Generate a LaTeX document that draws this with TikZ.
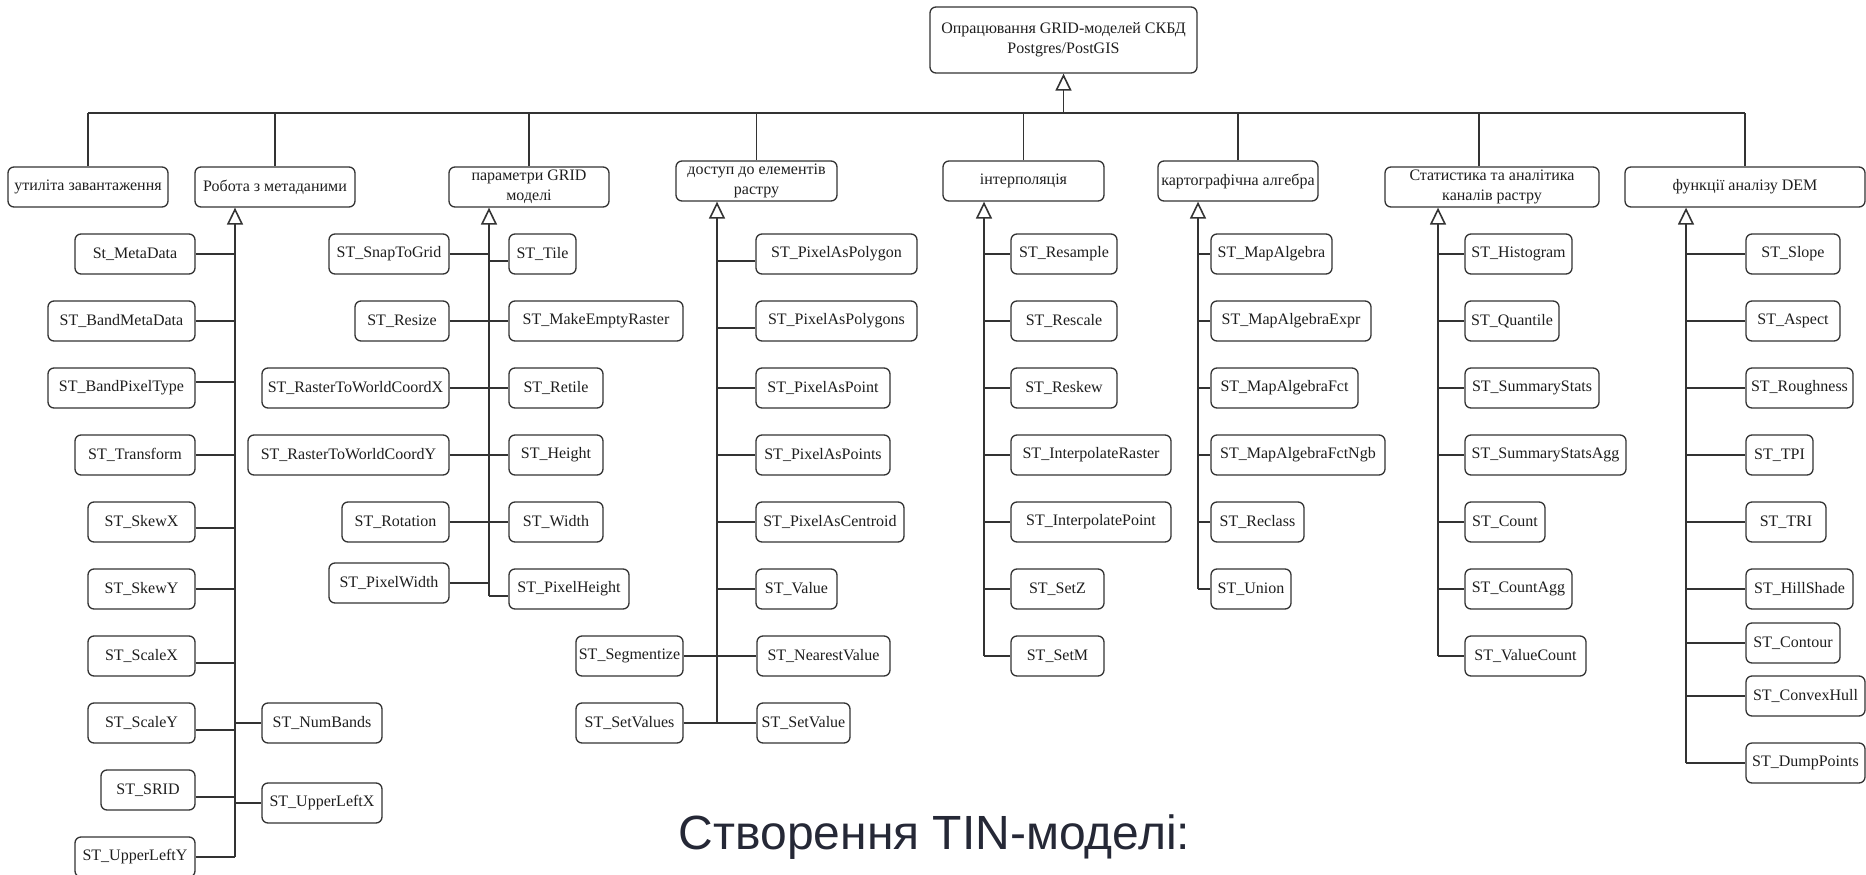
\documentclass[tikz,border=0pt]{standalone}
\usepackage{fontspec}
\setmainfont{Liberation Serif}
\newfontfamily\titlefont{Liberation Sans}
\usetikzlibrary{arrows.meta}
\definecolor{ln}{HTML}{333333}
\definecolor{tx}{HTML}{1E1E1E}
\definecolor{ttl}{HTML}{252836}

% box from x=#2 to x=#3, centred at y=#4
\newcommand\bx[5]{\node[box, minimum width={#3-#2}] (#1) at ({(#2+#3)/2},#4) {#5};}
% connector from a box on the left of spine #2 (vertical offset #3)
\newcommand\lc[3]{\draw[wire] ([yshift=#3]#1.east) -- ([yshift=#3]#1.east -| #2);}
% connector from spine #2 to a box on its right (vertical offset #3)
\newcommand\rc[3]{\draw[wire] ([yshift=#3]#1.west -| #2) -- ([yshift=#3]#1.west);}

\begin{document}
\begin{tikzpicture}[x=1pt,y=-1pt,
  box/.style={draw=ln, line width=1.3pt, rounded corners=6pt, minimum height=40pt,
    inner xsep=1pt, inner ysep=0pt, align=center, text=tx,
    font=\fontsize{16}{20}\selectfont},
  wire/.style={draw=ln, line width=1.3pt},
  gen/.style={wire, -{Triangle[open, length=17pt, width=16pt, line width=1.6pt]}},
]
\useasboundingbox (0,0) rectangle (1866,875);
\clip (0,0) rectangle (1866,875);

% root
\node[box, minimum width=267, minimum height=66] (root) at (1063.5,40)
  {Опрацювання GRID-моделей СКБД\\Postgres/PostGIS};

% categories
\bx{util}{8}{168}{187}{утиліта завантаження}
\bx{meta}{195}{355}{187}{Робота з метаданими}
\bx{grid}{449}{609}{187}{параметри GRID\\моделі}
\bx{acc}{676}{837}{181}{доступ до елементів\\растру}
\bx{intp}{943}{1104}{181}{інтерполяція}
\bx{alg}{1158}{1318}{181}{картографічна алгебра}
\bx{stat}{1385}{1599}{187}{Статистика та аналітика\\каналів растру}
\bx{dem}{1625}{1865}{187}{функції аналізу DEM}

% bus
\coordinate (bus) at (0,113);
\draw[wire] (util.north |- bus) -- (dem.north |- bus);
\foreach \n in {util,meta,grid,acc,intp,alg,dem}
  \draw[wire] (\n.north) -- (\n.north |- bus);
\draw[wire] ([xshift=-13]stat.north) -- ([xshift=-13]stat.north |- bus);
\draw[gen] (root.south |- bus) -- (root.south);

% spine positions
\coordinate (sMeta) at (235,0);
\coordinate (sGrid) at (489,0);
\coordinate (sAcc) at (717,0);
\coordinate (sIntp) at (984,0);
\coordinate (sAlg) at (1198,0);
\coordinate (sStat) at (1438,0);
\coordinate (sDem) at (1686,0);

% metadata functions
\bx{m1}{75}{195}{254}{St\_MetaData}
\bx{m2}{48}{195}{321}{ST\_BandMetaData}
\bx{m3}{48}{195}{388}{ST\_BandPixelType}
\bx{m4}{75}{195}{455}{ST\_Transform}
\bx{m5}{88}{195}{522}{ST\_SkewX}
\bx{m6}{88}{195}{589}{ST\_SkewY}
\bx{m7}{88}{195}{656}{ST\_ScaleX}
\bx{m8}{88}{195}{723}{ST\_ScaleY}
\bx{m9}{101}{195}{790}{ST\_SRID}
\bx{m10}{75}{195}{857}{ST\_UpperLeftY}
\bx{m11}{262}{382}{723}{ST\_NumBands}
\bx{m12}{262}{382}{803}{ST\_UpperLeftX}
\draw[gen] (m10.east -| sMeta) -- (meta.south -| sMeta);
\lc{m1}{sMeta}{0}
\lc{m2}{sMeta}{0}
\lc{m3}{sMeta}{6}
\lc{m4}{sMeta}{0}
\lc{m5}{sMeta}{-6}
\lc{m6}{sMeta}{0}
\lc{m7}{sMeta}{-7}
\lc{m8}{sMeta}{-7}
\lc{m9}{sMeta}{-7}
\lc{m10}{sMeta}{0}
\rc{m11}{sMeta}{0}
\rc{m12}{sMeta}{0}

% grid parameters
\bx{g1}{329}{449}{254}{ST\_SnapToGrid}
\bx{g2}{355}{449}{321}{ST\_Resize}
\bx{g3}{262}{449}{388}{ST\_RasterToWorldCoordX}
\bx{g4}{248}{449}{455}{ST\_RasterToWorldCoordY}
\bx{g5}{342}{449}{522}{ST\_Rotation}
\bx{g6}{329}{449}{583}{ST\_PixelWidth}
\bx{g7}{509}{576}{254}{ST\_Tile}
\bx{g8}{509}{683}{321}{ST\_MakeEmptyRaster}
\bx{g9}{509}{603}{388}{ST\_Retile}
\bx{g10}{509}{603}{455}{ST\_Height}
\bx{g11}{509}{603}{522}{ST\_Width}
\bx{g12}{509}{629}{589}{ST\_PixelHeight}
\draw[gen] ([yshift=-7]g12.west -| sGrid) -- (grid.south -| sGrid);
\foreach \n in {g1,g2,g3,g4,g5,g6} {\lc{\n}{sGrid}{0}}
\rc{g7}{sGrid}{-7}
\foreach \n in {g8,g9,g10,g11} {\rc{\n}{sGrid}{0}}
\rc{g12}{sGrid}{-7}

% raster element access
\bx{c1}{756}{917}{254}{ST\_PixelAsPolygon}
\bx{c2}{756}{917}{321}{ST\_PixelAsPolygons}
\bx{c3}{756}{890}{388}{ST\_PixelAsPoint}
\bx{c4}{756}{890}{455}{ST\_PixelAsPoints}
\bx{c5}{756}{904}{522}{ST\_PixelAsCentroid}
\bx{c6}{756}{837}{589}{ST\_Value}
\bx{c7}{757}{890}{656}{ST\_NearestValue}
\bx{c8}{757}{850}{723}{ST\_SetValue}
\bx{c9}{576}{683}{656}{ST\_Segmentize}
\bx{c10}{576}{683}{723}{ST\_SetValues}
\draw[gen] (c8.west -| sAcc) -- (acc.south -| sAcc);
\rc{c1}{sAcc}{-7}
\rc{c2}{sAcc}{-7}
\foreach \n in {c3,c4,c5,c6,c7,c8} {\rc{\n}{sAcc}{0}}
\lc{c9}{sAcc}{0}
\lc{c10}{sAcc}{0}

% interpolation
\bx{i1}{1011}{1117}{254}{ST\_Resample}
\bx{i2}{1011}{1117}{321}{ST\_Rescale}
\bx{i3}{1011}{1117}{388}{ST\_Reskew}
\bx{i4}{1011}{1171}{455}{ST\_InterpolateRaster}
\bx{i5}{1011}{1171}{522}{ST\_InterpolatePoint}
\bx{i6}{1011}{1104}{589}{ST\_SetZ}
\bx{i7}{1011}{1104}{656}{ST\_SetM}
\draw[gen] (i7.west -| sIntp) -- (intp.south -| sIntp);
\foreach \n in {i1,i2,i3,i4,i5,i6,i7} {\rc{\n}{sIntp}{0}}

% map algebra
\bx{l1}{1211}{1332}{254}{ST\_MapAlgebra}
\bx{l2}{1211}{1371}{321}{ST\_MapAlgebraExpr}
\bx{l3}{1211}{1358}{388}{ST\_MapAlgebraFct}
\bx{l4}{1211}{1385}{455}{ST\_MapAlgebraFctNgb}
\bx{l5}{1211}{1304}{522}{ST\_Reclass}
\bx{l6}{1211}{1291}{589}{ST\_Union}
\draw[gen] (l6.west -| sAlg) -- (alg.south -| sAlg);
\foreach \n in {l1,l2,l3,l4,l5,l6} {\rc{\n}{sAlg}{0}}

% band statistics
\bx{t1}{1465}{1572}{254}{ST\_Histogram}
\bx{t2}{1465}{1559}{321}{ST\_Quantile}
\bx{t3}{1465}{1599}{388}{ST\_SummaryStats}
\bx{t4}{1465}{1626}{455}{ST\_SummaryStatsAgg}
\bx{t5}{1465}{1545}{522}{ST\_Count}
\bx{t6}{1465}{1572}{589}{ST\_CountAgg}
\bx{t7}{1465}{1586}{656}{ST\_ValueCount}
\draw[gen] (t7.west -| sStat) -- (stat.south -| sStat);
\foreach \n in {t1,t2,t3,t4,t5,t6,t7} {\rc{\n}{sStat}{0}}

% DEM analysis
\bx{d1}{1746}{1840}{254}{ST\_Slope}
\bx{d2}{1746}{1840}{321}{ST\_Aspect}
\bx{d3}{1746}{1853}{388}{ST\_Roughness}
\bx{d4}{1746}{1813}{455}{ST\_TPI}
\bx{d5}{1746}{1826}{522}{ST\_TRI}
\bx{d6}{1746}{1853}{589}{ST\_HillShade}
\bx{d7}{1746}{1840}{643}{ST\_Contour}
\bx{d8}{1746}{1865}{696}{ST\_ConvexHull}
\bx{d9}{1746}{1865}{763}{ST\_DumpPoints}
\draw[gen] (d9.west -| sDem) -- (dem.south -| sDem);
\foreach \n in {d1,d2,d3,d4,d5,d6,d7,d8,d9} {\rc{\n}{sDem}{0}}

% caption below
\node[font=\titlefont\fontsize{48}{48}\selectfont, text=ttl, anchor=base, inner sep=0pt]
  (cap) at (934.5,849) {Створення TIN-моделі:};
\end{tikzpicture}
\end{document}
